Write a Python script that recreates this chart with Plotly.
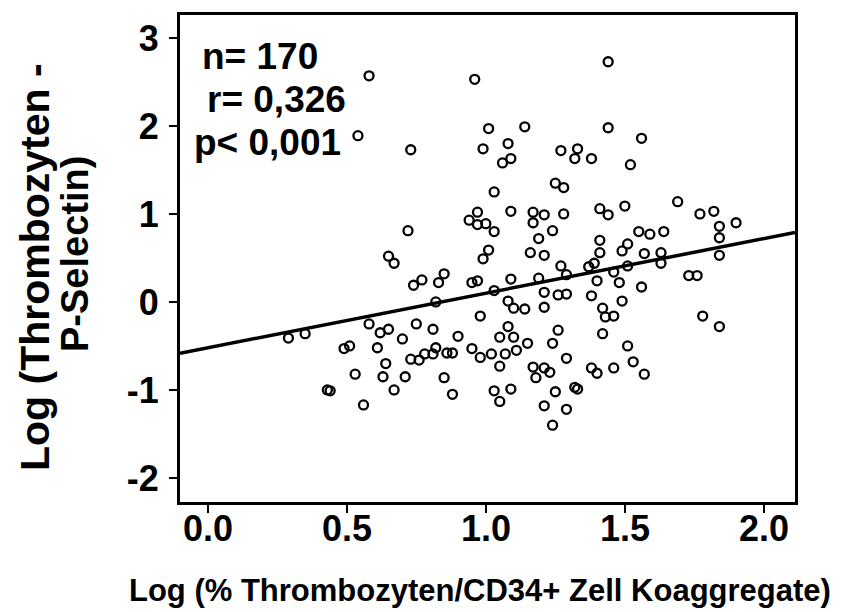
import plotly.graph_objects as go

# Data
x_vals = [0.58, 0.54, 0.73, 0.72, 0.65, 0.67, 0.74, 0.77, 0.58, 0.29, 0.35, 0.62, 0.65, 0.75, 0.70,
          0.49, 0.51, 0.61, 0.73, 0.76, 0.78, 0.64, 0.53, 0.63, 0.71, 0.43, 0.44, 0.67, 0.56,
          0.96, 1.01, 1.14, 0.99, 1.08, 1.06, 1.09, 1.27, 1.33, 1.32, 1.25, 1.28, 1.03, 0.97, 0.94,
          0.97, 1.00, 1.03, 1.09, 1.17, 1.21, 1.17, 1.28, 1.24, 1.19,
          1.01, 0.99, 1.16, 1.21, 1.27, 1.37, 0.85, 0.83, 0.95, 0.97, 1.09, 1.19, 1.29, 0.82, 1.03,
          1.21, 1.26, 1.29, 1.38, 1.08, 1.10, 1.14, 1.21, 0.98, 1.08, 1.26, 0.81, 0.90, 1.05, 1.10,
          1.15, 1.24, 0.82, 0.81, 0.86, 0.88, 0.95, 0.98, 1.02, 1.07, 1.11, 1.05, 1.29, 1.17, 1.21,
          1.23, 1.18, 1.38, 0.85, 1.09, 1.03, 1.32, 1.33, 0.88, 1.25, 1.05, 1.21, 1.29, 1.24, 1.40,
          1.44, 1.44, 1.56, 1.38, 1.52, 1.69, 1.41, 1.44, 1.50, 1.77, 1.82, 1.84, 1.90, 1.55, 1.59,
          1.64, 1.41, 1.84, 1.51, 1.49, 1.41, 1.57, 1.63, 1.63, 1.84, 1.39, 1.46, 1.51, 1.73, 1.76,
          1.40, 1.48, 1.56, 1.49, 1.42, 1.43, 1.46, 1.78, 1.84, 1.42, 1.51, 1.53, 1.46, 1.57]
y_vals = [2.57, 1.89, 1.73, 0.81, 0.52, 0.44, 0.19, 0.25, -0.25, -0.41, -0.36, -0.35, -0.31, -0.25, -0.42,
          -0.53, -0.50, -0.52, -0.65, -0.66, -0.59, -0.70, -0.82, -0.85, -0.85, -1.00, -1.01, -1.00, -1.17,
          2.53, 1.97, 1.99, 1.74, 1.80, 1.58, 1.63, 1.72, 1.74, 1.63, 1.35, 1.30, 1.25, 1.02, 0.93,
          0.88, 0.89, 0.80, 1.03, 1.02, 0.99, 0.90, 1.00, 0.81, 0.72,
          0.59, 0.49, 0.56, 0.53, 0.41, 0.40, 0.32, 0.22, 0.22, 0.24, 0.26, 0.27, 0.31, 0.00, 0.13,
          0.11, 0.08, 0.09, 0.07, 0.01, -0.07, -0.08, -0.06, -0.16, -0.28, -0.32, -0.31, -0.39, -0.40, -0.40,
          -0.47, -0.47, -0.52, -0.59, -0.58, -0.58, -0.53, -0.63, -0.59, -0.59, -0.55, -0.73, -0.64, -0.74, -0.75,
          -0.80, -0.86, -0.75, -0.86, -0.99, -1.01, -0.97, -0.99, -1.05, -1.02, -1.13, -1.18, -1.22, -1.40, -0.81,
          2.73, 1.98, 1.86, 1.63, 1.56, 1.14, 1.06, 0.99, 1.09, 1.00, 1.03, 0.86, 0.90, 0.80, 0.77,
          0.80, 0.70, 0.73, 0.66, 0.58, 0.56, 0.55, 0.56, 0.44, 0.53, 0.44, 0.34, 0.41, 0.30, 0.30,
          0.24, 0.22, 0.17, 0.01, -0.07, -0.17, -0.16, -0.16, -0.28, -0.36, -0.50, -0.68, -0.75, -0.82]

reg_intercept = -0.52
reg_slope = 0.62

x_range = [-0.10, 2.112]
y_range = [-2.273, 3.261]
x_ticks = [0.0, 0.5, 1.0, 1.5, 2.0]
x_ticklabels = ["0.0", "0.5", "1.0", "1.5", "2.0"]
y_ticks = [-2, -1, 0, 1, 2, 3]
y_ticklabels = ["-2", "-1", "0", "1", "2", "3"]

stat_lines = ["n= 170", "r= 0,326", "p< 0,001"]
x_title = "Log (% Thrombozyten/CD34+ Zell Koaggregate)"
y_title_lines = ["Log (Thrombozyten -", "P-Selectin)"]

W, H = 855, 612
L, R, T, B = 180, 60, 15, 110
PW, PH = W - L - R, H - T - B


def px(xp):
    return (xp - L) / PW


def py(yp):
    return (H - B - yp) / PH


FONT = "Liberation Sans, Arial, sans-serif"

fig = go.Figure()
fig.add_trace(go.Scatter(
    x=x_vals, y=y_vals, mode="markers",
    marker=dict(symbol="circle-open", size=9, color="black", line=dict(width=2.3, color="black")),
    showlegend=False, hoverinfo="skip"))
fig.add_trace(go.Scatter(
    x=x_range, y=[reg_intercept + reg_slope * v for v in x_range], mode="lines",
    line=dict(color="black", width=3.5), showlegend=False, hoverinfo="skip"))

tick_font = dict(family=FONT, size=36, color="black", weight="bold")
axis_common = dict(showgrid=False, zeroline=False, showline=True, linecolor="black", linewidth=3,
                   mirror=True, ticks="outside", ticklen=8, tickwidth=2, tickcolor="black",
                   tickfont=tick_font)
fig.update_xaxes(range=x_range, tickvals=x_ticks, showticklabels=False, **axis_common)
fig.update_yaxes(range=y_range, tickvals=y_ticks, ticktext=y_ticklabels, ticklabelstandoff=3,
                 **axis_common)

annotations = []
# x tick labels placed on the x axis scale, just under the ticks
for xv, lab in zip(x_ticks, x_ticklabels):
    annotations.append(dict(text=lab, x=xv, y=py(528), xref="x", yref="paper",
                            xanchor="center", yanchor="middle", showarrow=False, font=tick_font))
stat_pos = [(200, 57), (205, 100), (192, 142)]
for txt, (xp, yp) in zip(stat_lines, stat_pos):
    annotations.append(dict(text=txt, x=px(xp), y=py(yp), xref="paper", yref="paper",
                            xanchor="left", yanchor="middle", showarrow=False,
                            font=dict(family=FONT, size=37, color="black", weight="bold")))
annotations.append(dict(text=x_title, x=px(480), y=py(590), xref="paper", yref="paper",
                        xanchor="center", yanchor="middle", showarrow=False,
                        font=dict(family=FONT, size=31, color="black", weight="bold")))
for txt, (xp, yp), fs in zip(y_title_lines, [(35, 267), (75, 254)], [41, 38]):
    annotations.append(dict(text=txt, x=px(xp), y=py(yp), xref="paper", yref="paper",
                            xanchor="center", yanchor="middle", showarrow=False, textangle=-90,
                            font=dict(family=FONT, size=fs, color="black", weight="bold")))

fig.update_layout(width=W, height=H, margin=dict(l=L, r=R, t=T, b=B),
                  paper_bgcolor="white", plot_bgcolor="white", annotations=annotations)

fig.write_html("out.html")
